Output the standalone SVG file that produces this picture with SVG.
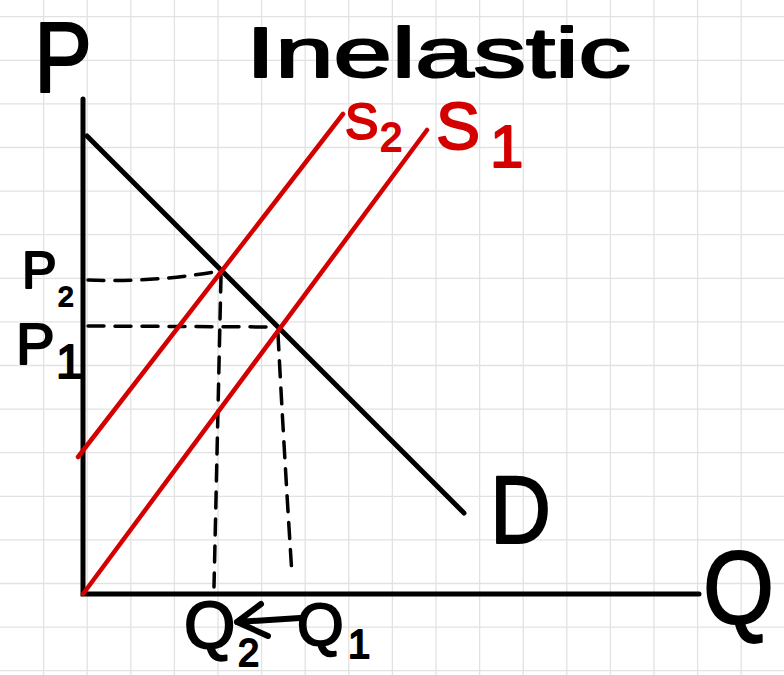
<svg xmlns="http://www.w3.org/2000/svg" width="784" height="675" viewBox="0 0 784 675">
<style>
.grid line{stroke:#e2e2e2;stroke-width:1.3}
.ax{stroke:#000;stroke-width:5;stroke-linecap:round;fill:none}
.dem{stroke:#000;stroke-width:5;stroke-linecap:round;fill:none}
.sup{stroke:#d40000;stroke-width:4.5;stroke-linecap:round;fill:none}
.dash{stroke:#000;stroke-width:3.5;stroke-linecap:round;stroke-dasharray:16 11;fill:none}
.arr{stroke:#000;stroke-width:6;stroke-linecap:round;stroke-linejoin:round;fill:none}
.lb{font-family:"Liberation Sans","DejaVu Sans",sans-serif;fill:#000;stroke:#000;stroke-width:2;stroke-linejoin:round}
.red{fill:#d40000;stroke:#d40000}
</style>
<rect width="784" height="675" fill="#fff"/>
<g class="grid" id="grid">
<line x1="43.6" y1="0" x2="43.6" y2="675"/><line x1="87.2" y1="0" x2="87.2" y2="675"/><line x1="130.8" y1="0" x2="130.8" y2="675"/><line x1="174.4" y1="0" x2="174.4" y2="675"/><line x1="218" y1="0" x2="218" y2="675"/><line x1="261.6" y1="0" x2="261.6" y2="675"/><line x1="305.2" y1="0" x2="305.2" y2="675"/><line x1="348.8" y1="0" x2="348.8" y2="675"/><line x1="392.4" y1="0" x2="392.4" y2="675"/><line x1="436" y1="0" x2="436" y2="675"/><line x1="479.6" y1="0" x2="479.6" y2="675"/><line x1="523.2" y1="0" x2="523.2" y2="675"/><line x1="566.8" y1="0" x2="566.8" y2="675"/><line x1="610.4" y1="0" x2="610.4" y2="675"/><line x1="654" y1="0" x2="654" y2="675"/><line x1="697.6" y1="0" x2="697.6" y2="675"/><line x1="741.2" y1="0" x2="741.2" y2="675"/>
<line x1="0" y1="16.7" x2="784" y2="16.7"/><line x1="0" y1="60.3" x2="784" y2="60.3"/><line x1="0" y1="103.9" x2="784" y2="103.9"/><line x1="0" y1="147.5" x2="784" y2="147.5"/><line x1="0" y1="191.1" x2="784" y2="191.1"/><line x1="0" y1="234.7" x2="784" y2="234.7"/><line x1="0" y1="278.3" x2="784" y2="278.3"/><line x1="0" y1="321.9" x2="784" y2="321.9"/><line x1="0" y1="365.5" x2="784" y2="365.5"/><line x1="0" y1="409.1" x2="784" y2="409.1"/><line x1="0" y1="452.7" x2="784" y2="452.7"/><line x1="0" y1="496.3" x2="784" y2="496.3"/><line x1="0" y1="539.9" x2="784" y2="539.9"/><line x1="0" y1="583.5" x2="784" y2="583.5"/><line x1="0" y1="627.1" x2="784" y2="627.1"/><line x1="0" y1="670.7" x2="784" y2="670.7"/>
</g>
<g id="axes">
<path class="ax" d="M83,99 L83,594 L699,594"/>
</g>
<g id="connectors">
<path class="dash" d="M88,280 Q150,283 221,271"/>
<path class="dash" d="M88,326 L276,327"/>
<path class="dash" d="M221,276 L214,587"/>
<path class="dash" d="M278,334 Q284,450 292,575"/>
<path class="arr" d="M300,618 L237,622 M261,604 L237,622 L268,636"/>
</g>
<g id="demand-D"><path class="dem" d="M87,136 L464,513"/></g>
<g id="supply-S1"><path class="sup" d="M83,594 L427,130"/></g>
<g id="supply-S2"><path class="sup" d="M78,457 L343,114"/></g>
<g id="labels">
<text id="title" class="lb" x="246" y="77" font-size="70" textLength="385" lengthAdjust="spacingAndGlyphs" stroke-width="1">Inelastic</text>
<text id="label-P" class="lb" x="34" y="92" font-size="100" textLength="58" lengthAdjust="spacingAndGlyphs" stroke-width="1">P</text>
<text id="label-D" class="lb" x="490" y="543" font-size="96" textLength="61" lengthAdjust="spacingAndGlyphs" stroke-width="1.5">D</text>
<text id="label-Q" class="lb" x="703" y="623" font-size="104" textLength="71" lengthAdjust="spacingAndGlyphs" stroke-width="1.5">Q</text>
<text id="label-S2" class="lb red"><tspan x="345" y="139" font-size="50">S</tspan><tspan x="380" y="151" font-size="40">2</tspan></text>
<text id="label-S1" class="lb red"><tspan x="436" y="149" font-size="66">S</tspan><tspan x="490" y="167" font-size="60">1</tspan></text>
<text id="label-P2" class="lb"><tspan x="22" y="288" font-size="52">P</tspan><tspan x="58" y="306" font-size="28">2</tspan></text>
<text id="label-P1" class="lb"><tspan x="16" y="364" font-size="58">P</tspan><tspan x="56" y="378" font-size="48">1</tspan></text>
<text id="label-Q2" class="lb"><tspan x="184" y="648" font-size="66">Q</tspan><tspan x="238" y="666" font-size="38">2</tspan></text>
<text id="label-Q1" class="lb"><tspan x="297" y="645" font-size="60">Q</tspan><tspan x="348" y="658" font-size="40">1</tspan></text>
</g>
</svg>
